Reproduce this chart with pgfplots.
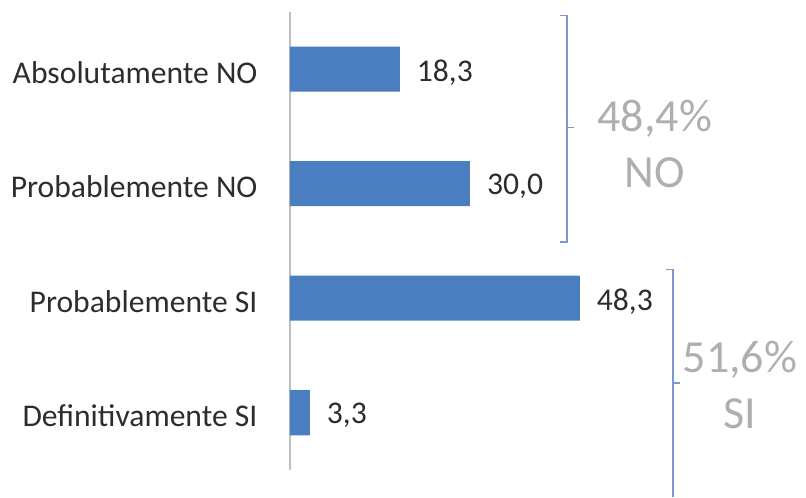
\documentclass[border=0pt]{standalone}
\usepackage{pgfplots}
\pgfplotsset{compat=1.18}
\usepackage{fontspec}
\setmainfont{Carlito}
\definecolor{barblue}{RGB}{74,126,193}
\definecolor{brk}{RGB}{125,152,205}
\definecolor{bigtxt}{RGB}{175,175,175}
\definecolor{axgray}{RGB}{190,190,190}
\definecolor{txt}{RGB}{45,45,45}
\begin{document}
\begin{tikzpicture}
\useasboundingbox (-145pt,-13.5pt) rectangle (258pt,235pt);
\begin{axis}[
  at={(0,0)}, anchor=south west,
  scale only axis, width=258pt, height=229pt,
  xmin=0, xmax=86, ymin=-0.5, ymax=3.5,
  clip=false,
  axis x line=none,
  axis y line*=left,
  y axis line style={draw=axgray, line width=0.8pt, -},
  ytick={0,1,2,3},
  yticklabels={Definitivamente SI, Probablemente SI, Probablemente NO, Absolutamente NO},
  ytick style={draw=none},
  yticklabel style={font=\fontsize{15.8}{18}\selectfont, text=txt, xshift=-8.5pt, yshift=-1.5pt},
  xbar, bar width=22.5pt,
  nodes near coords,
  nodes near coords style={font=\fontsize{15.8}{18}\selectfont, text=txt, anchor=west, xshift=5pt, yshift=-1.5pt,
    /pgf/number format/.cd, fixed, fixed zerofill, precision=1, use comma, assume math mode=true},
]
\addplot[fill=barblue, draw=none] coordinates {(3.3,0) (48.3,1) (30.0,2) (18.3,3)};
\draw[brk, line width=0.8pt] (axis cs:45.0,3.47) -- (axis cs:46.2,3.47) -- (axis cs:46.2,1.49) -- (axis cs:45.0,1.49);
\draw[brk, line width=0.8pt] (axis cs:46.2,2.49) -- (axis cs:47.4,2.49);
\draw[brk, line width=0.8pt] (axis cs:62.6,1.25) -- (axis cs:63.8,1.25) -- (axis cs:63.8,-0.74);
\draw[brk, line width=0.8pt] (axis cs:63.8,0.26) -- (axis cs:65.0,0.26);
\node[text=bigtxt, font=\fontsize{23}{28}\selectfont, align=center] at (axis cs:60.8,2.35) {48,4\%\\NO};
\node[text=bigtxt, font=\fontsize{23}{28}\selectfont, align=center] at (axis cs:75.0,0.24) {51,6\%\\SI};
\end{axis}
\end{tikzpicture}
\end{document}
